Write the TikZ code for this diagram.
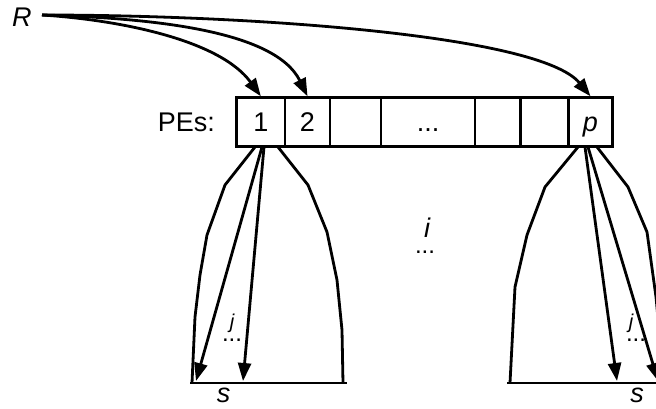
\documentclass[tikz,border=0pt]{standalone}
\usepackage{fontspec}
\setmainfont{Liberation Sans}
\usetikzlibrary{arrows.meta}
\begin{document}
\begin{tikzpicture}[x=1pt,y=-1pt,
  ln/.style={line width=2.8pt},
  arr/.style={ln,-{Triangle[length=18pt,width=13pt]}},
  cell/.style={draw,line width=2.8pt,minimum height=49pt,inner sep=0pt,
    text height=19pt,text depth=0pt,font=\fontsize{27}{30}\selectfont},
  lbl/.style={inner sep=0pt,font=\fontsize{27}{30}\selectfont\itshape},
  small/.style={inner sep=0pt,font=\fontsize{20}{24}\selectfont\itshape},
  dots/.style={inner sep=0pt,font=\fontsize{24}{28}\selectfont}]
\useasboundingbox (0,0) rectangle (656,409);
\clip (0,0) rectangle (656,409);
% labels
\node[lbl,anchor=base west] (R) at (12,27) {R};
\coordinate (Rs) at (42,15);
\node[inner sep=0pt,font=\fontsize{27}{30}\selectfont,anchor=base east] (pes) at (215,131.7) {PEs:};
% cells
\node[cell,minimum width=48.3pt] (c1) at (260.85,122.2) {1};
\node[cell,minimum width=45pt] (c2) at (307.5,122.2) {2};
\node[cell,minimum width=51pt] (c3) at (355.5,122.2) {};
\node[cell,minimum width=94pt] (c4) at (428,122.2) {...};
\node[cell,minimum width=45.7pt] (c5) at (497.85,122.2) {};
\node[cell,minimum width=47.6pt] (c6) at (544.5,122.2) {};
\node[cell,minimum width=44.4pt,font=\fontsize{27}{30}\selectfont\itshape] (c7) at (590.5,122.2) {p};
% curves from R
\draw[arr] (Rs) .. controls (120,20) and (220,40) .. (c1.north);
\draw[arr] (Rs) .. controls (150,18) and (275,30) .. (c2.north);
\draw[arr] (Rs) .. controls (250,15) and (540,35) .. (c7.north);
% left tree
\draw[ln] (255,147) -- (225,185) -- (207,235) -- (200,275) -- (195,317) -- (192,383);
\draw[ln] (278,147) -- (308,185) -- (327,232) -- (337,280) -- (342,330) -- (343,383);
\coordinate (lb1) at (190,383);
\coordinate (lb2) at (347,383);
\draw[ln] (lb1) -- (lb2);
\coordinate (la1) at (196,381);
\coordinate (la2) at (243,381);
\draw[arr] (262,147) -- (la1);
\draw[arr] (264,147) -- (la2);
\node[small,anchor=base] (lj) at (232,328) {j};
\node[dots,anchor=base] (ld) at (232,341) {...};
\node[lbl,anchor=base] (ls) at (223.5,402) {s};
% right tree
\draw[ln] (578,147) -- (545,187) -- (527,235) -- (515,287) -- (510,383);
\draw[ln] (597,147) -- (628,187) -- (647,232) -- (656,297) -- (660,340) -- (661,383);
\coordinate (rb1) at (507,383);
\coordinate (rb2) at (670,383);
\draw[ln] (rb1) -- (rb2);
\coordinate (ra1) at (617,381);
\coordinate (ra2) at (658,381);
\draw[arr] (585,147) -- (ra1);
\draw[arr] (588,147) -- (ra2);
\node[small,anchor=base] (rj) at (631,328) {j};
\node[dots,anchor=base] (rd) at (636,341) {...};
\node[lbl,anchor=base] (rs) at (637,402) {s};
% middle label
\node[lbl,anchor=base] (mi) at (427,237) {i};
\node[dots,anchor=base] (md) at (425,253) {...};
\end{tikzpicture}
\end{document}
